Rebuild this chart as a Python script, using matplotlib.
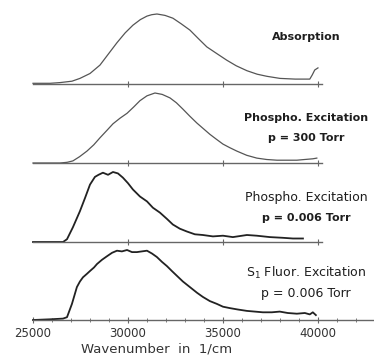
import matplotlib.pyplot as plt
from matplotlib.ticker import MultipleLocator

# wavenumber (1/cm) and normalised intensity for each trace
abs_wn = [25000, 25900, 26420, 27050, 27470, 28000, 28525, 29000, 29420, 29850,
          30260, 30650, 31000, 31250, 31525, 31950, 32365, 32800, 33260, 33700,
          34150, 34700, 35200, 35700, 36260, 36800, 37310, 38000, 38800, 39570,
          39700, 39830, 40000]
abs_int = [0.01, 0.01, 0.02, 0.04, 0.08, 0.15, 0.27, 0.44, 0.59, 0.73,
           0.84, 0.92, 0.97, 0.99, 1.00, 0.98, 0.94, 0.86, 0.77, 0.65,
           0.53, 0.43, 0.34, 0.26, 0.19, 0.14, 0.11, 0.08, 0.07, 0.07,
           0.13, 0.20, 0.23]

ph300_wn = [25000, 26420, 26800, 27100, 27450, 27840, 28200, 28525, 28870, 29210,
            29580, 29950, 30300, 30630, 31000, 31420, 31800, 32210, 32550, 32890,
            33250, 33630, 33970, 34310, 34650, 35000, 35350, 35730, 36250, 36780,
            37300, 37840, 38400, 38890, 39300, 39730, 39940]
ph300_int = [0.0, 0.0, 0.01, 0.03, 0.09, 0.17, 0.26, 0.36, 0.46, 0.56,
             0.64, 0.71, 0.80, 0.89, 0.96, 1.00, 0.98, 0.93, 0.86, 0.77,
             0.67, 0.57, 0.49, 0.41, 0.34, 0.27, 0.22, 0.17, 0.11, 0.07,
             0.05, 0.04, 0.04, 0.04, 0.05, 0.06, 0.07]

ph006_wn = [25000, 26580, 26790, 27100, 27470, 27740, 28000, 28260, 28450, 28680,
            28950, 29210, 29470, 29730, 30000, 30260, 30630, 31000, 31310, 31680,
            32050, 32360, 32730, 33100, 33520, 33940, 34470, 35000, 35520, 36260,
            36780, 37470, 38150, 38680, 39210]
ph006_int = [0.0, 0.0, 0.04, 0.21, 0.44, 0.63, 0.82, 0.93, 0.96, 0.99,
             0.96, 1.00, 0.98, 0.92, 0.84, 0.75, 0.65, 0.58, 0.49, 0.42,
             0.33, 0.25, 0.19, 0.15, 0.11, 0.10, 0.08, 0.09, 0.07, 0.10,
             0.09, 0.07, 0.06, 0.05, 0.05]

s1_wn = [25000, 25900, 26580, 26790, 27050, 27310, 27470, 27630, 27840, 28000,
         28210, 28370, 28630, 28890, 29160, 29420, 29680, 29950, 30210, 30470,
         30730, 31000, 31260, 31520, 31790, 32050, 32310, 32580, 32890, 33260,
         33630, 33940, 34310, 34680, 35000, 35360, 35780, 36260, 36680, 37100,
         37570, 37990, 38410, 38890, 39310, 39570, 39730, 39890]
s1_int = [0.0, 0.01, 0.02, 0.04, 0.23, 0.47, 0.55, 0.61, 0.66, 0.70,
          0.75, 0.80, 0.86, 0.91, 0.96, 0.99, 0.98, 1.00, 0.97, 0.97,
          0.98, 0.99, 0.95, 0.90, 0.83, 0.77, 0.70, 0.63, 0.55, 0.47,
          0.39, 0.33, 0.27, 0.23, 0.19, 0.17, 0.15, 0.13, 0.12, 0.11,
          0.11, 0.12, 0.10, 0.09, 0.10, 0.08, 0.11, 0.07]

labels = [
    ('Absorption', None),
    ('Phospho. Excitation', 'p = 300 Torr'),
    ('Phospho. Excitation', 'p = 0.006 Torr'),
    ('S$_1$ Fluor. Excitation', 'p = 0.006 Torr'),
]

W, H = 374, 356
fig = plt.figure(figsize=(W / 100, H / 100), dpi=100)

baselines = [84, 163, 242, 320]   # pixel rows of each trace's zero line
traces = [(abs_wn, abs_int), (ph300_wn, ph300_int), (ph006_wn, ph006_int), (s1_wn, s1_int)]
styles = [dict(color='#555555', lw=0.9), dict(color='#555555', lw=0.9),
          dict(color='#222222', lw=1.3), dict(color='#222222', lw=1.3)]
label_y = [(37, None), (118, 138), (198, 218), (273, 293)]
text_c = '#1e1e1e'

for i in range(4):
    b = baselines[i]
    ax = fig.add_axes([33 / W, (H - b) / H, (W - 33) / W, 70 / H])
    ax.set_xlim(25000, 42950)
    ax.set_ylim(0, 1)
    ax.patch.set_alpha(0)
    for s in ['top', 'right', 'left']:
        ax.spines[s].set_visible(False)
    ax.spines['bottom'].set_color('#666666')
    ax.spines['bottom'].set_linewidth(1.0)
    ax.set_yticks([])
    wn, inten = traces[i]
    ax.plot(wn, inten, clip_on=False, **styles[i])

    if i < 3:
        ax.spines['bottom'].set_bounds(25000, 40200)
        ax.set_xticks([30000, 35000, 40000])
        ax.set_xticklabels([])
        ax.tick_params(axis='x', direction='inout', length=4, width=0.8, color='#666666')
    else:
        ax.xaxis.set_minor_locator(MultipleLocator(1000))
        ax.set_xticks([25000, 30000, 35000, 40000])
        ax.tick_params(axis='x', which='major', direction='inout', length=4, width=0.8,
                       color='#666666', labelsize=8.5, labelcolor='#333333', pad=3)
        ax.tick_params(axis='x', which='minor', direction='inout', length=3, width=0.6,
                       color='#666666')
        ax.set_xlabel('Wavenumber  in  1/cm', fontsize=9.5, color='#333333')
        ax.xaxis.set_label_coords((157 - 33) / (W - 33), -0.32)

    l1, l2 = labels[i]
    y1, y2 = label_y[i]
    w1 = 'bold' if i < 2 else 'normal'
    fs1 = 8 if i < 2 else 9
    fig.text(306 / W, (H - y1) / H, l1, ha='center', va='center', fontsize=fs1,
             fontweight=w1, color=text_c)
    if l2:
        w2 = 'bold' if i < 3 else 'normal'
        fs2 = 8 if i < 3 else 9
        fig.text(306 / W, (H - y2) / H, l2, ha='center', va='center', fontsize=fs2,
                 fontweight=w2, color=text_c)

fig.savefig('out.png', dpi=100)
